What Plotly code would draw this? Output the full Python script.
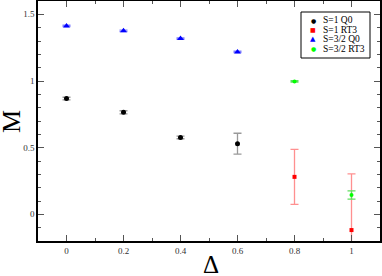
import plotly.graph_objects as go

delta_s1q0 = [0.0, 0.2, 0.4, 0.6]
m_s1q0 = [0.868, 0.765, 0.577, 0.530]
e_s1q0 = [0.010, 0.012, 0.010, 0.078]

delta_s1rt3 = [0.8, 1.0]
m_s1rt3 = [0.281, -0.118]
e_s1rt3 = [0.206, 0.421]

delta_s32q0 = [0.0, 0.2, 0.4, 0.6]
m_s32q0 = [1.413, 1.376, 1.318, 1.218]
e_s32q0 = [0.005, 0.005, 0.005, 0.005]

delta_s32rt3 = [0.8, 1.0]
m_s32rt3 = [0.997, 0.145]
e_s32rt3 = [0.005, 0.031]

x_ticks = [0, 0.2, 0.4, 0.6, 0.8, 1]
y_ticks = [0, 0.5, 1, 1.5]

series_names = ["S=1 Q0", "S=1 RT3", "S=3/2 Q0", "S=3/2 RT3"]
series_colors = ["black", "red", "blue", "#00ff00"]
legend_glyphs = ["●", "■", "▲", "●"]

serif = "Liberation Serif, Times New Roman, serif"

fig = go.Figure()

def add(name, x, y, e, color, ecolor, symbol, size):
    fig.add_trace(go.Scatter(
        x=x, y=y, mode="markers", name=name, showlegend=False,
        marker=dict(color=color, symbol=symbol, size=size, line=dict(width=0)),
        error_y=dict(type="data", array=e, visible=True, color=ecolor,
                     thickness=1.3, width=4),
    ))

add(series_names[0], delta_s1q0, m_s1q0, e_s1q0, series_colors[0], "#999999", "circle", 5)
add(series_names[1], delta_s1rt3, m_s1rt3, e_s1rt3, series_colors[1], "#ff9090", "square", 4)
add(series_names[2], delta_s32q0, m_s32q0, e_s32q0, series_colors[2], "#8080ff", "triangle-up", 6)
add(series_names[3], delta_s32rt3, m_s32rt3, e_s32rt3, series_colors[3], "#60dd60", "circle", 4)

axis_common = dict(
    showline=True, linecolor="black", linewidth=1.5, mirror="allticks",
    ticks="inside", ticklen=6, tickcolor="#555555", tickwidth=1,
    showgrid=False, zeroline=False, automargin=False,
    tickfont=dict(family=serif, size=9, color="#333333"),
    minor=dict(ticks="inside", ticklen=3, tickcolor="#555555", dtick=0.1),
)

fig.update_xaxes(range=[-0.1, 1.1], tickvals=x_ticks, **axis_common)
fig.update_yaxes(range=[-0.2, 1.6], tickvals=y_ticks, **axis_common)

W, H = 382, 276
ML, MR, MT, MB = 38, 2, 1, 35
PW, PH = W - ML - MR, H - MT - MB

def px(x):
    return (x - ML) / PW

def py(y):
    return (H - MB - y) / PH

annotations = [
    dict(text="Δ", x=px(210.5), y=py(249), xref="paper", yref="paper",
         xanchor="center", yanchor="top", showarrow=False,
         font=dict(family=serif, size=25, color="black")),
    dict(text="M", x=px(11.5), y=py(121.5), xref="paper", yref="paper",
         xanchor="center", yanchor="middle", textangle=-90, showarrow=False,
         font=dict(family=serif, size=26, color="black")),
]
row_y = [20, 29.7, 39.3, 49]
for name, col, g, ry in zip(series_names, series_colors, legend_glyphs, row_y):
    gsize = 7 if g == "▲" else 6
    annotations.append(dict(text=g, x=px(313), y=py(ry), xref="paper", yref="paper",
                            xanchor="center", yanchor="middle", showarrow=False,
                            font=dict(family="DejaVu Sans", size=gsize, color=col)))
    annotations.append(dict(text=name, x=px(321), y=py(ry), xref="paper", yref="paper",
                            xanchor="left", yanchor="middle", showarrow=False,
                            font=dict(family=serif, size=9.5, color="black")))

shapes = [dict(type="rect", xref="paper", yref="paper",
               x0=px(301), x1=px(370), y0=py(58), y1=py(12),
               line=dict(color="black", width=1), fillcolor="white", layer="above")]

fig.update_layout(
    width=W, height=H,
    margin=dict(l=ML, r=MR, t=MT, b=MB),
    plot_bgcolor="white", paper_bgcolor="white",
    showlegend=False,
    annotations=annotations,
    shapes=shapes,
)

fig.write_html("out.html",
               config={"displayModeBar": False},
               post_script="document.body.style.margin='0';document.body.style.padding='0';")
